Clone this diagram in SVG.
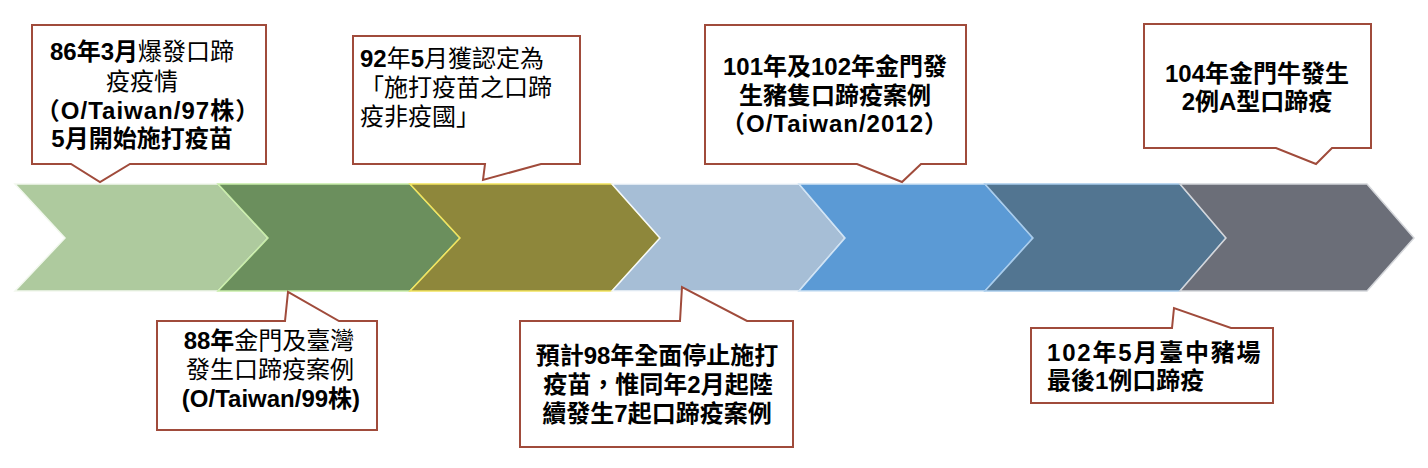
<svg xmlns="http://www.w3.org/2000/svg" width="1428" height="468" viewBox="0 0 1428 468">
<style>
.t{font-family:"Liberation Sans","Noto Sans CJK TC",sans-serif;font-size:24px;fill:#000}
.b{font-weight:bold}
.n{font-weight:normal}
.m{text-anchor:middle}
.co{fill:#fff;stroke:#A04B3B;stroke-width:2;stroke-linejoin:miter}
.ch{stroke-width:1.5;stroke-linejoin:miter}
</style>
<rect width="1428" height="468" fill="#fff"/>
<g id="timeline">
<polygon class="ch" points="15,184 218,184 268,238 218,291 15,291 65,238" fill="#AECA9E" stroke="#F2F8EE"/>
<polygon class="ch" points="218,184 410,184 460,238 410,291 218,291 268,238" fill="#6B8F5D" stroke="#C8EDA8"/>
<polygon class="ch" points="410,184 612,184 660,238 612,291 410,291 460,238" fill="#8E873B" stroke="#F2E45E"/>
<polygon class="ch" points="612,184 799,184 845,238 799,291 612,291 660,238" fill="#A6BED6" stroke="#F4F8FC"/>
<polygon class="ch" points="799,184 985,184 1033,238 985,291 799,291 845,238" fill="#5B9AD5" stroke="#CFE3F5"/>
<polygon class="ch" points="985,184 1180,184 1226,238 1180,291 985,291 1033,238" fill="#527591" stroke="#A8CCEC"/>
<polygon class="ch" points="1180,184 1367,184 1414,238 1367,291 1180,291 1226,238" fill="#6B6E78" stroke="#D4D6DA"/>
</g>
<g id="callout1">
<path class="co" d="M32,25 H266 V164 H130 L100,182 L71,164 H32 Z"/>
<text class="t m" x="142" y="60"><tspan class="b">86年3月</tspan><tspan class="n">爆發口蹄</tspan></text>
<text class="t m n" x="142" y="90">疫疫情</text>
<text class="t m b" x="148" y="119" letter-spacing="1">（O/Taiwan/97株）</text>
<text class="t m b" x="142" y="147">5月開始施打疫苗</text>
</g>
<g id="callout2">
<path class="co" d="M353,36 H580 V164 H541 L483,180 L485,164 H353 Z"/>
<text class="t" x="360" y="67"><tspan class="b">92</tspan><tspan class="n">年</tspan><tspan class="b">5</tspan><tspan class="n">月獲認定為</tspan></text>
<text class="t n" x="360" y="96">「施打疫苗之口蹄</text>
<text class="t n" x="360" y="125">疫非疫國」</text>
</g>
<g id="callout3">
<path class="co" d="M157,321 H285 L288,292 L339,321 H377 V430 H157 Z"/>
<text class="t m" x="269" y="349"><tspan class="b">88年</tspan><tspan class="n">金門及臺灣</tspan></text>
<text class="t m n" x="270" y="378">發生口蹄疫案例</text>
<text class="t m b" x="271" y="407">(O/Taiwan/99株)</text>
</g>
<g id="callout4">
<path class="co" d="M520,321 H680 L682,287 L747,321 H793 V447 H520 Z"/>
<text class="t m b" x="657" y="364">預計98年全面停止施打</text>
<text class="t m b" x="658" y="393">疫苗，惟同年2月起陸</text>
<text class="t m b" x="657" y="422">續發生7起口蹄疫案例</text>
</g>
<g id="callout5">
<path class="co" d="M705,25 H966 V164 H921 L902,182 L857,164 H705 Z"/>
<text class="t m b" x="835" y="75">101年及102年金門發</text>
<text class="t m b" x="835" y="103.5">生豬隻口蹄疫案例</text>
<text class="t m b" x="835" y="132" letter-spacing="1">（O/Taiwan/2012）</text>
</g>
<g id="callout6">
<path class="co" d="M1031,328 H1172 L1174,308 L1231,328 H1273 V403 H1031 Z"/>
<text class="t b" x="1047" y="361" letter-spacing="1.8">102年5月臺中豬場</text>
<text class="t b" x="1047" y="389">最後1例口蹄疫</text>
</g>
<g id="callout7">
<path class="co" d="M1144,24 H1371 V148 H1332 L1316,164 L1276,148 H1144 Z"/>
<text class="t m b" x="1257" y="81.5">104年金門牛發生</text>
<text class="t m b" x="1257" y="110">2例A型口蹄疫</text>
</g>
</svg>
